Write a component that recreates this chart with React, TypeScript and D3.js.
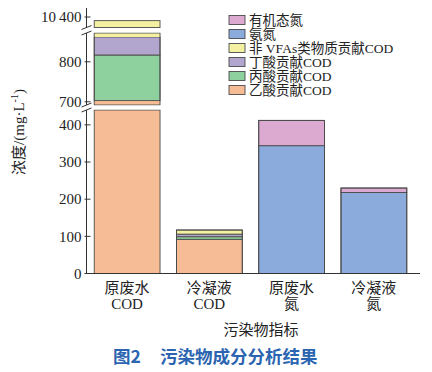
import * as d3 from 'd3';

const categories = [['原废水', 'COD'], ['冷凝液', 'COD'], ['原废水', '氮'], ['冷凝液', '氮']];
const seriesNames = ['乙酸贡献COD', '丙酸贡献COD', '丁酸贡献COD', '非 VFAs类物质贡献COD', '氨氮', '有机态氮'];
const acetic = [703, 92, 0, 0];
const propionic = [114, 7, 0, 0];
const butyric = [45, 7, 0, 0];
const nonVfa = [9518, 11, 0, 0];
const ammonia = [0, 0, 344, 218];
const organicN = [0, 0, 68, 12];
const colors = ['#f6bc95', '#8fd09f', '#b2a6cf', '#f4f0a2', '#8aabdc', '#dcaad1'];

// broken y axis: three pieces
const segments = [
  { domain: [0, 440], range: [273.5, 110], ticks: [0, 100, 200, 300, 400] },
  { domain: [692, 872], range: [105, 33], ticks: [700, 800] },
  { domain: [10342, 10450], range: [27.5, 8], ticks: [10400] },
];

const fmt = (v: number) => (v >= 10000 ? d3.format(',')(v).replace(',', '\u2009') : String(v));

export default function App() {
  const width = 432;
  const height = 372;
  const axisX = 86.5;
  const baseY = 273.5;
  const font = '"Liberation Serif", "Noto Sans CJK SC", serif';

  const x = d3.scaleBand<number>()
    .domain(d3.range(categories.length))
    .range([86, 415])
    .paddingInner(0.2)
    .paddingOuter(0.1);

  const table = categories.map((_, i) => ({
    i, acetic: acetic[i], propionic: propionic[i], butyric: butyric[i],
    nonVfa: nonVfa[i], ammonia: ammonia[i], organicN: organicN[i],
  }));
  const keys = ['acetic', 'propionic', 'butyric', 'nonVfa', 'ammonia', 'organicN'];
  const stacked = d3.stack<any>().keys(keys)(table);

  const scales = segments.map((s) => d3.scaleLinear().domain(s.domain).range(s.range));

  const legendOrder = [5, 4, 3, 2, 1, 0];

  return (
    <svg width={width} height={height} style={{ position: 'absolute', left: 0, top: 0, background: '#fff' }}>
      {/* bars */}
      {stacked.map((layer, li) => (
        <g key={li} fill={colors[li]} stroke="#4a4a4a" strokeWidth={0.9}>
          {layer.map((d, bi) => {
            if (d[1] - d[0] <= 0) return null;
            return segments.map((s, si) => {
              const lo = Math.max(d[0], s.domain[0]);
              const hi = Math.min(d[1], s.domain[1]);
              if (hi <= lo) return null;
              const y = scales[si];
              const top = y(hi);
              const bot = y(lo);
              return (
                <rect key={`${bi}-${si}`} x={x(bi)} y={top} width={x.bandwidth()} height={bot - top}
                  stroke={hi < d[1] || lo > d[0] ? 'none' : '#4a4a4a'} />
              );
            });
          })}
        </g>
      ))}
      {/* bar outlines per axis piece */}
      {stacked[stacked.length - 1].map((d, bi) => {
        const total = d[1];
        return segments.map((s, si) => {
          const lo = s.domain[0];
          const hi = Math.min(total, s.domain[1]);
          if (total <= s.domain[0]) return null;
          const y = scales[si];
          return (
            <rect key={`o${bi}-${si}`} x={x(bi)} y={y(hi)} width={x.bandwidth()} height={y(Math.max(lo, 0)) - y(hi)}
              fill="none" stroke="#4a4a4a" strokeWidth={0.9} />
          );
        });
      })}
      {/* white gaps */}
      <rect x={80} y={segments[1].range[0] + 0.5} width={90} height={segments[0].range[1] - segments[1].range[0] - 1} fill="#fff" />
      <rect x={80} y={segments[2].range[0] + 0.5} width={90} height={segments[1].range[1] - segments[2].range[0] - 1} fill="#fff" />

      {/* y axis pieces */}
      {segments.map((s, si) => (
        <g key={si} stroke="#333" strokeWidth={1}>
          <line x1={axisX} x2={axisX} y1={s.range[0]} y2={s.range[1]} />
          {s.ticks.map((t) => (
            <line key={t} x1={axisX - 2} x2={axisX + 4} y1={scales[si](t)} y2={scales[si](t)} />
          ))}
        </g>
      ))}
      {/* break marks */}
      {[segments[0].range[1], segments[1].range[0], segments[1].range[1], segments[2].range[0]].map((yy, k) => (
        <line key={k} x1={axisX - 5} y1={yy + 2} x2={axisX + 5} y2={yy - 2} stroke="#333" strokeWidth={1} />
      ))}
      {segments.map((s, si) => s.ticks.map((t) => (
        <text key={`${si}-${t}`} x={axisX - 5} y={scales[si](t)} dy="0.35em" textAnchor="end"
          fontFamily={font} fontSize={15} fill="#222">{fmt(t)}</text>
      )))}

      {/* x axis */}
      <line x1={axisX} x2={420} y1={baseY} y2={baseY} stroke="#333" strokeWidth={1} />
      {categories.map((c, i) => (
        <text key={i} x={(x(i) as number) + x.bandwidth() / 2} textAnchor="middle" fontFamily={font} fontSize={15} fill="#222">
          <tspan x={(x(i) as number) + x.bandwidth() / 2} y={293}>{c[0]}</tspan>
          <tspan x={(x(i) as number) + x.bandwidth() / 2} y={309}>{c[1]}</tspan>
        </text>
      ))}
      <text x={261} y={335} textAnchor="middle" fontFamily={font} fontSize={15} fill="#222">污染物指标</text>

      {/* y label */}
      <text transform="translate(24,132) rotate(-90)" textAnchor="middle" fontFamily={font} fontSize={15} fill="#222">
        浓度/(mg·L<tspan fontSize={10} dy={-6}>-1</tspan><tspan dy={6}>)</tspan>
      </text>

      {/* legend */}
      <g>
        {legendOrder.map((si, k) => (
          <g key={si} transform={`translate(229,${20 + k * 14})`}>
            <rect x={0} y={-4.5} width={16} height={9} fill={colors[si]} stroke="#4a4a4a" strokeWidth={0.9} />
            <text x={20} y={0} dy="0.35em" fontFamily={font} fontSize={13.5} fill="#222">{seriesNames[si]}</text>
          </g>
        ))}
      </g>

      {/* caption */}
      <g fontFamily='"Noto Sans CJK SC", sans-serif' fontWeight="bold" fontSize={17.5} fill="#2b64b0">
        <text x={113} y={363}>图2</text>
        <text x={160} y={363}>污染物成分分析结果</text>
      </g>
    </svg>
  );
}
